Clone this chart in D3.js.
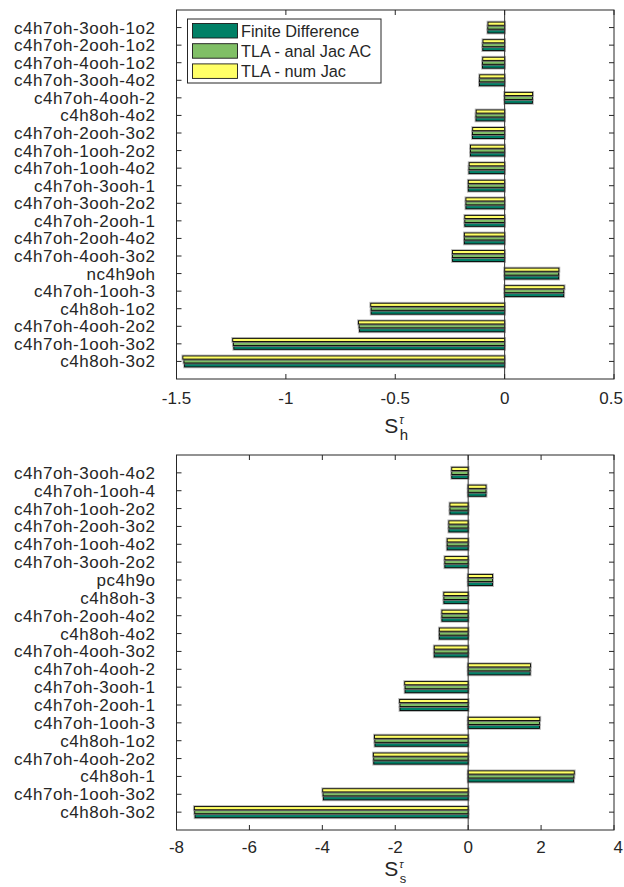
<!DOCTYPE html>
<html>
<head>
<meta charset="utf-8">
<script src="https://cdn.jsdelivr.net/npm/d3@7"></script>
<style>
  body { margin: 0; background: #fff; }
  text { font-family: "Liberation Sans", Arial, Helvetica, sans-serif; fill: #262626; }
</style>
</head>
<body>
<svg id="chart" width="624" height="887"></svg>
<script>
// ---------------- data ----------------
const seriesNames = ["Finite Difference", "TLA - anal Jac AC", "TLA - num Jac"];
const seriesColors = ["#008066", "#80bf66", "#ffff66"];

const catsH = ["c4h7oh-3ooh-1o2","c4h7oh-2ooh-1o2","c4h7oh-4ooh-1o2","c4h7oh-3ooh-4o2","c4h7oh-4ooh-2",
  "c4h8oh-4o2","c4h7oh-2ooh-3o2","c4h7oh-1ooh-2o2","c4h7oh-1ooh-4o2","c4h7oh-3ooh-1",
  "c4h7oh-3ooh-2o2","c4h7oh-2ooh-1","c4h7oh-2ooh-4o2","c4h7oh-4ooh-3o2","nc4h9oh",
  "c4h7oh-1ooh-3","c4h8oh-1o2","c4h7oh-4ooh-2o2","c4h7oh-1ooh-3o2","c4h8oh-3o2"];
const hFD   = [-0.077,-0.100,-0.101,-0.115,0.127,-0.131,-0.147,-0.156,-0.163,-0.166,
               -0.177,-0.182,-0.184,-0.238,0.247,0.270,-0.610,-0.663,-1.238,-1.463];
const hAnal = [-0.077,-0.100,-0.101,-0.115,0.127,-0.131,-0.147,-0.156,-0.163,-0.166,
               -0.177,-0.182,-0.184,-0.238,0.247,0.270,-0.610,-0.665,-1.240,-1.466];
const hNum  = [-0.076,-0.099,-0.100,-0.114,0.128,-0.130,-0.146,-0.156,-0.162,-0.166,
               -0.177,-0.182,-0.184,-0.238,0.248,0.272,-0.612,-0.668,-1.243,-1.471];
const hTicks = [-1.5,-1,-0.5,0,0.5];
const hTickLabels = ["-1.5","-1","-0.5","0","0.5"];

const catsS = ["c4h7oh-3ooh-4o2","c4h7oh-1ooh-4","c4h7oh-1ooh-2o2","c4h7oh-2ooh-3o2","c4h7oh-1ooh-4o2",
  "c4h7oh-3ooh-2o2","pc4h9o","c4h8oh-3","c4h7oh-2ooh-4o2","c4h8oh-4o2",
  "c4h7oh-4ooh-3o2","c4h7oh-4ooh-2","c4h7oh-3ooh-1","c4h7oh-2ooh-1","c4h7oh-1ooh-3",
  "c4h8oh-1o2","c4h7oh-4ooh-2o2","c4h8oh-1","c4h7oh-1ooh-3o2","c4h8oh-3o2"];
const sFD   = [-0.45,0.49,-0.50,-0.53,-0.575,-0.64,0.668,-0.666,-0.72,-0.79,
               -0.93,1.70,-1.73,-1.87,1.955,-2.556,-2.59,2.89,-3.97,-7.49];
const sAnal = [-0.45,0.49,-0.50,-0.53,-0.575,-0.64,0.668,-0.666,-0.72,-0.79,
               -0.93,1.70,-1.73,-1.87,1.955,-2.56,-2.59,2.90,-3.98,-7.50];
const sNum  = [-0.45,0.49,-0.50,-0.53,-0.575,-0.64,0.670,-0.668,-0.72,-0.79,
               -0.93,1.71,-1.74,-1.88,1.965,-2.57,-2.60,2.91,-3.99,-7.51];
const sTicks = [-8,-6,-4,-2,0,2,4];
const sTickLabels = ["-8","-6","-4","-2","0","2","4"];

// ---------------- drawing ----------------
const svg = d3.select("#chart");
const axisColor = "#262626";

function panel(cfg) {
  const { cats, series, xDomain, ticks, tickLabels, box, sub, labelOff, tickOff, tauOff, tauSize, subSize } = cfg;
  const g = svg.append("g");
  const n = cats.length;
  const x = d3.scaleLinear().domain(xDomain).range([box.left, box.right]);
  const y = d3.scaleLinear().domain([0, n + 1]).range([box.bottom, box.top]);
  const rowVal = i => n - i; // first category at the top

  const groupW = Math.min(0.8, 3 / (3 + 1.5));
  const step = groupW / 3;
  const barH = 0.8 * step;

  // bars
  series.forEach((vals, s) => {
    const off = (s - 1) * step;
    const bars = g.append("g");
    vals.forEach((v, i) => {
      const yc = rowVal(i) + off;
      const y0 = y(yc + barH / 2), y1 = y(yc - barH / 2);
      const x0 = Math.min(x(0), x(v)), x1 = Math.max(x(0), x(v));
      bars.append("rect")
        .attr("x", x0 - 0.8).attr("y", y0 - 0.8)
        .attr("width", x1 - x0 + 1.6).attr("height", y1 - y0 + 1.6)
        .attr("fill", "none").attr("stroke", "#9a9a9a").attr("stroke-width", 1.2).attr("opacity", 0.7);
    });
    vals.forEach((v, i) => {
      const yc = rowVal(i) + off;
      const y0 = y(yc + barH / 2), y1 = y(yc - barH / 2);
      const x0 = Math.min(x(0), x(v)), x1 = Math.max(x(0), x(v));
      bars.append("rect")
        .attr("x", x0).attr("y", y0)
        .attr("width", x1 - x0).attr("height", y1 - y0)
        .attr("fill", seriesColors[s]).attr("stroke", "#000").attr("stroke-width", 0.9);
    });
  });

  // baseline at zero
  g.append("line").attr("x1", x(0)).attr("x2", x(0))
    .attr("y1", box.top).attr("y2", box.bottom)
    .attr("stroke", "#333").attr("stroke-width", 1);

  // box
  g.append("rect").attr("x", box.left).attr("y", box.top)
    .attr("width", box.right - box.left).attr("height", box.bottom - box.top)
    .attr("fill", "none").attr("stroke", axisColor).attr("stroke-width", 1);

  // x ticks (bottom & top)
  const tl = 5;
  ticks.forEach((t, k) => {
    const xx = x(t);
    g.append("line").attr("x1", xx).attr("x2", xx).attr("y1", box.bottom).attr("y2", box.bottom - tl)
      .attr("stroke", axisColor);
    g.append("line").attr("x1", xx).attr("x2", xx).attr("y1", box.top).attr("y2", box.top + tl)
      .attr("stroke", axisColor);
    const last = k === ticks.length - 1;
    g.append("text").attr("x", last ? 623 : xx).attr("y", box.bottom + tickOff)
      .attr("text-anchor", last ? "end" : "middle").attr("font-size", 17).text(tickLabels[k]);
  });

  // y ticks and category labels
  cats.forEach((c, i) => {
    const yy = y(rowVal(i));
    g.append("line").attr("x1", box.left).attr("x2", box.left + tl).attr("y1", yy).attr("y2", yy)
      .attr("stroke", axisColor);
    g.append("line").attr("x1", box.right).attr("x2", box.right - tl).attr("y1", yy).attr("y2", yy)
      .attr("stroke", axisColor);
    g.append("text").attr("x", box.left - 21).attr("y", yy + 6)
      .attr("text-anchor", "end").attr("font-size", 17).attr("letter-spacing", 0.55).text(c);
  });

  // axis label S with superscript tau and subscript
  const lx = (box.left + box.right) / 2 + 3;
  const ly = box.bottom + labelOff;
  g.append("text").attr("x", lx).attr("y", ly).attr("text-anchor", "end")
    .attr("font-size", 21).text("S");
  g.append("text").attr("x", lx + 1).attr("y", ly - tauOff).attr("font-size", tauSize)
    .attr("font-style", "italic").attr("font-family", "DejaVu Serif, serif").text("τ");
  g.append("text").attr("x", lx + 1.5).attr("y", ly + 7).attr("font-size", subSize).text(sub);

  return { x, y };
}

panel({
  cats: catsH, series: [hFD, hAnal, hNum], xDomain: [-1.5, 0.5],
  ticks: hTicks, tickLabels: hTickLabels,
  box: { left: 176.5, right: 614, top: 10, bottom: 379 }, sub: "h",
  labelOff: 54, tickOff: 25, tauOff: 9, tauSize: 12, subSize: 15
});

panel({
  cats: catsS, series: [sFD, sAnal, sNum], xDomain: [-8, 4],
  ticks: sTicks, tickLabels: sTickLabels,
  box: { left: 176.5, right: 614, top: 455, bottom: 830 }, sub: "s",
  labelOff: 46, tickOff: 23, tauOff: 8.5, tauSize: 11, subSize: 13
});

// legend
const lg = svg.append("g");
lg.append("rect").attr("x", 187.5).attr("y", 19).attr("width", 193.5).attr("height", 64)
  .attr("fill", "#fff").attr("stroke", axisColor).attr("stroke-width", 1);
seriesNames.forEach((name, i) => {
  const yy = 23.5 + i * 20.2;
  lg.append("rect").attr("x", 192.5).attr("y", yy).attr("width", 45).attr("height", 14.5)
    .attr("fill", seriesColors[i]).attr("stroke", "#1a1a1a").attr("stroke-width", 0.9);
  lg.append("text").attr("x", 241).attr("y", yy + 13).attr("font-size", 16.3).text(name);
});
</script>
</body>
</html>
